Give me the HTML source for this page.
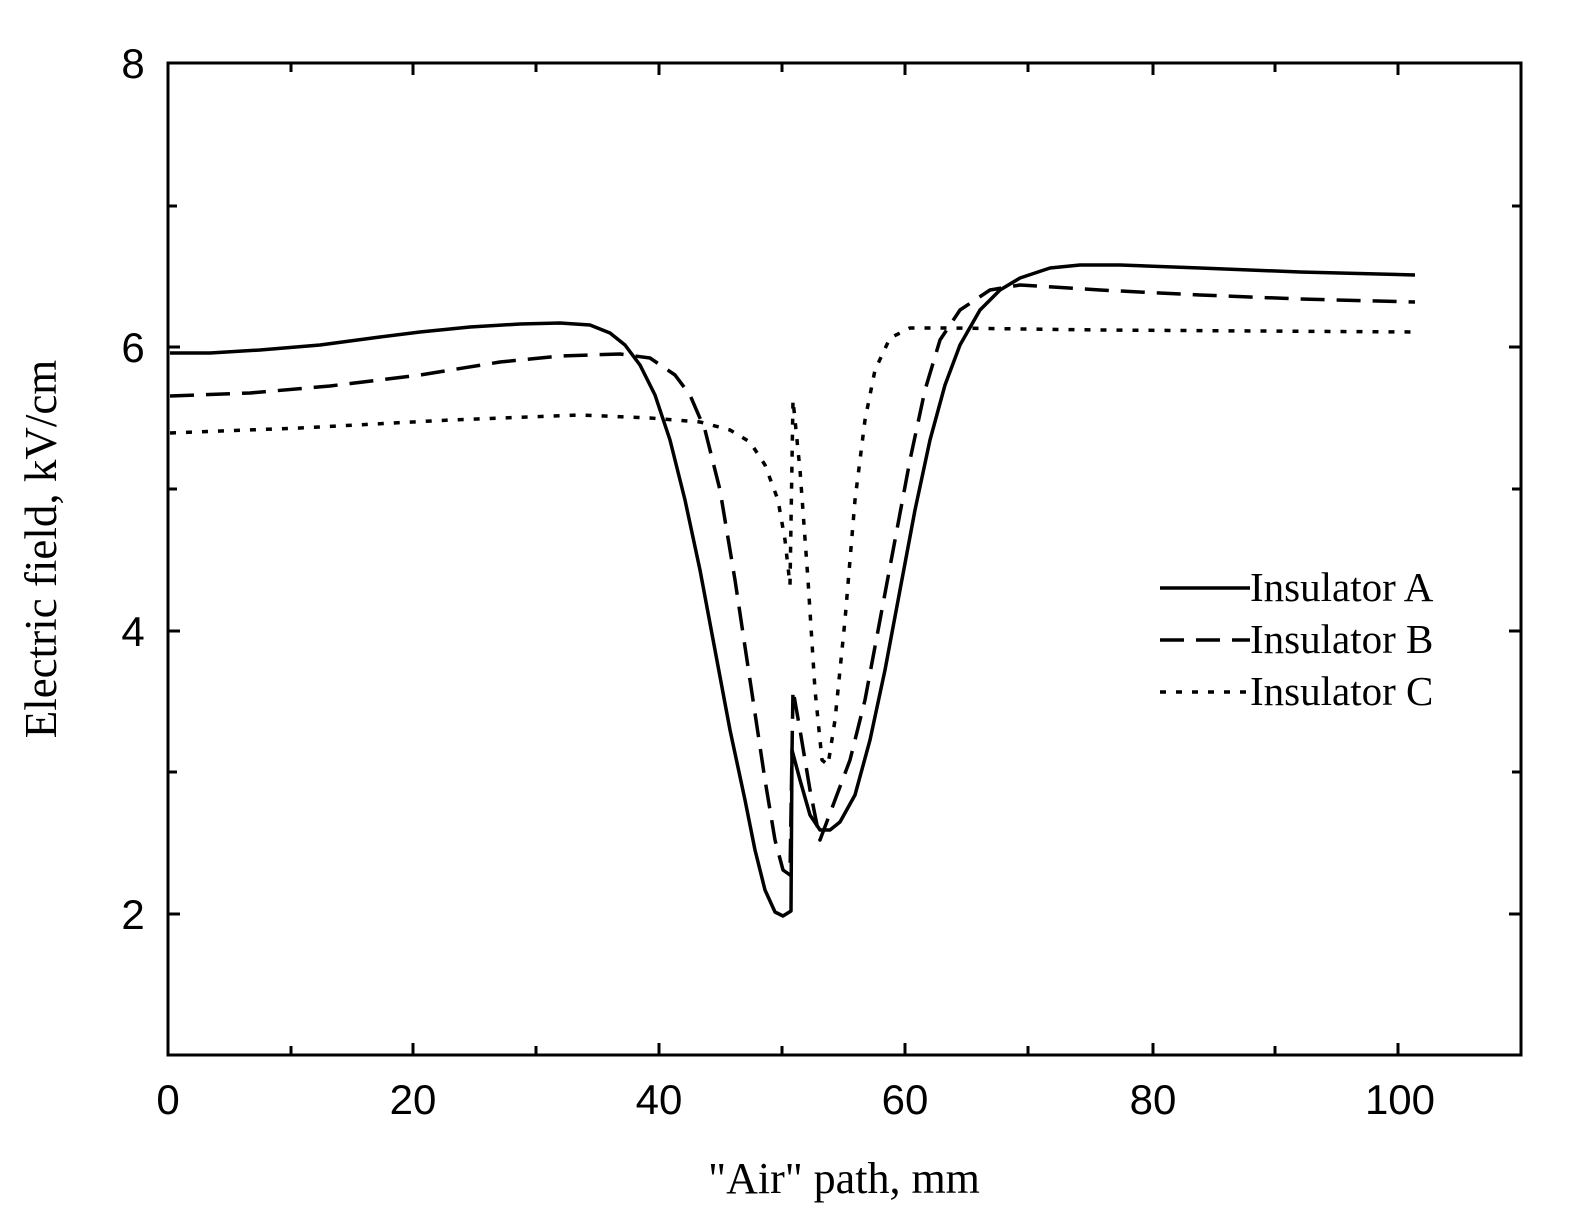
<!DOCTYPE html>
<html><head><style>body{margin:0;background:#fff}</style></head><body>
<svg width="1571" height="1224" xmlns="http://www.w3.org/2000/svg">
<rect width="1571" height="1224" fill="#fff"/>
<g stroke="#000" stroke-width="3" fill="none">
<rect x="168" y="63" width="1353" height="992"/>
<path d="M291,1055v-9M413,1055v-12M536,1055v-9M659,1055v-12M782,1055v-9M905,1055v-12M1028,1055v-9M1153,1055v-12M1275,1055v-9M1398,1055v-12
M291,63v9M413,63v12M536,63v9M659,63v12M782,63v9M905,63v12M1028,63v9M1153,63v12M1275,63v9M1398,63v12
M168,206h9M168,347h12M168,489h9M168,631h12M168,772h9M168,914h12
M1521,206h-9M1521,347h-12M1521,489h-9M1521,631h-12M1521,772h-9M1521,914h-12"/>
</g>
<g fill="none" stroke="#000" stroke-width="3.5" stroke-linejoin="round">
<path d="M170,353 L210,353 L260,350 L320,345 L380,337 L420,332 L470,327 L520,324 L560,323 L590,325 L610,333 L625,345 L640,365 L655,395 L670,440 L685,500 L700,570 L715,650 L730,730 L745,800 L755,850 L765,890 L775,912 L783,916 L791,911 L792,750 L800,780 L810,815 L820,830 L830,830 L840,822 L855,795 L870,740 L885,670 L900,590 L915,510 L930,440 L945,385 L960,345 L980,310 L1000,290 L1020,278 L1050,268 L1080,265 L1120,265 L1200,268 L1300,272 L1415,275"/>
<path stroke-dasharray="24,12" d="M170,396 L250,393 L330,386 L420,375 L500,362 L560,356 L620,354 L650,358 L675,375 L690,395 L705,430 L720,490 L735,580 L750,680 L765,780 L775,840 L783,870 L790,875 L793,690 L800,730 L810,790 L820,840 L835,800 L850,760 L865,700 L880,620 L895,540 L910,460 L925,390 L940,340 L960,310 L990,290 L1020,285 L1100,290 L1200,295 L1300,299 L1415,302"/>
<path stroke-dasharray="6,10" d="M170,433 L300,428 L450,420 L580,415 L650,418 L700,422 L730,430 L750,442 L765,465 L778,500 L785,540 L790,585 L793,400 L800,470 L808,580 L815,690 L822,760 L828,765 L835,720 L845,620 L855,500 L865,420 L875,370 L890,338 L910,328 L950,328 L1100,330 L1415,332"/>
<path d="M1160,588h90"/>
<path stroke-dasharray="24,12" d="M1160,640h90"/>
<path stroke-dasharray="6,10" d="M1160,692h90"/>
</g>
<g font-family="Liberation Serif, serif" font-size="41" fill="#000">
<text x="1250" y="601">Insulator A</text>
<text x="1250" y="653">Insulator B</text>
<text x="1250" y="705">Insulator C</text>
<text x="844" y="1193" text-anchor="middle" font-size="44">"Air" path, mm</text>
<text transform="translate(56,549) rotate(-90)" text-anchor="middle" font-size="45">Electric field, kV/cm</text>
</g>
<g font-family="Liberation Sans, sans-serif" font-size="42" fill="#000" text-anchor="middle">
<text x="168" y="1114">0</text><text x="413" y="1114">20</text><text x="659" y="1114">40</text>
<text x="905" y="1114">60</text><text x="1153" y="1114">80</text><text x="1400" y="1114">100</text>
<text x="133" y="78">8</text><text x="133" y="362">6</text><text x="133" y="646">4</text><text x="133" y="929">2</text>
</g>
</svg>
</body></html>
